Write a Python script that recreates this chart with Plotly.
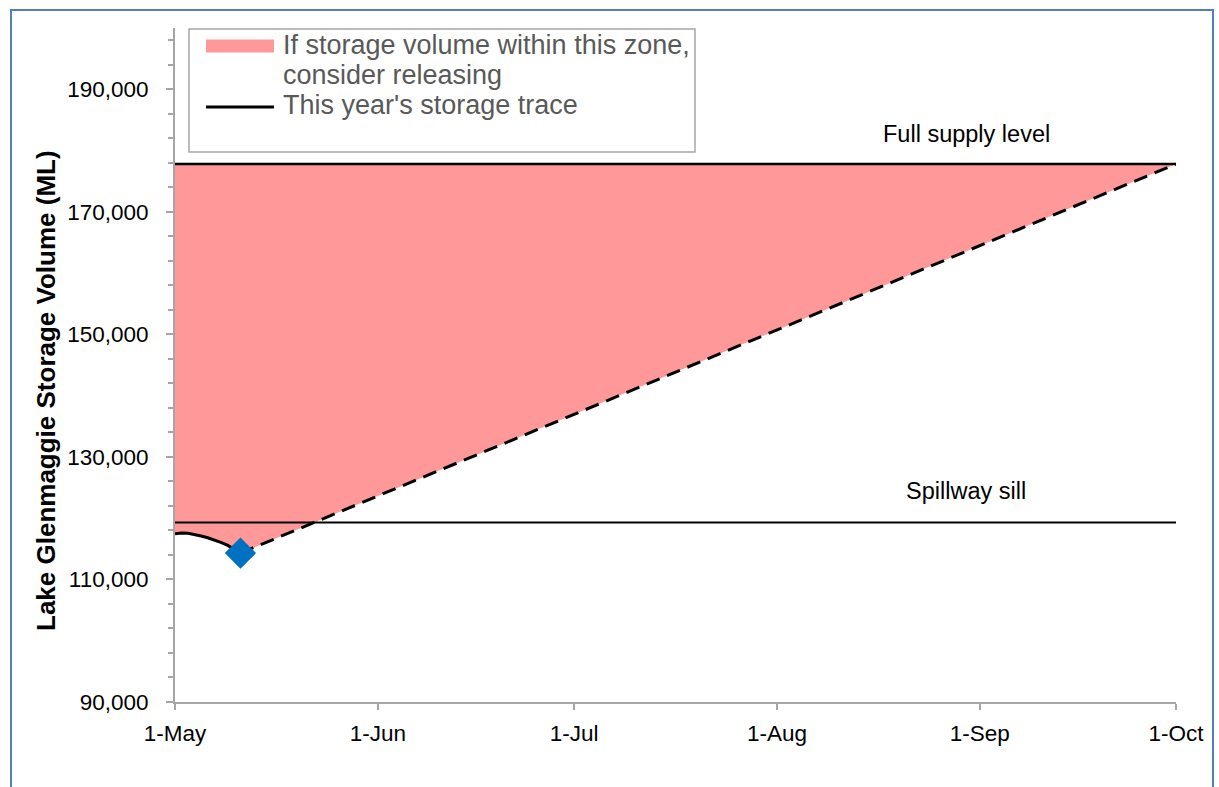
import plotly.graph_objects as go

# ---- data -----------------------------------------------------------------
# Lake Glenmaggie storage recorded so far this season (ML)
trace_dates = [
    "2023-05-01", "2023-05-02", "2023-05-03", "2023-05-04", "2023-05-05",
    "2023-05-06", "2023-05-07", "2023-05-08", "2023-05-09", "2023-05-10",
    "2023-05-11",
]
trace_volume = [117450, 117600, 117550, 117350, 117100,
                116800, 116450, 116050, 115600, 115000,
                114300]

# Straight-line path from the latest reading up to full supply on 1 October
forecast_dates = ["2023-05-11", "2023-10-01"]
forecast_volume = [114300, 177800]

FULL_SUPPLY = 177800
SPILLWAY_SILL = 119300

season_dates = ["2023-05-01", "2023-10-01"]
x_tick_dates = ["2023-05-01", "2023-06-01", "2023-07-01",
                "2023-08-01", "2023-09-01", "2023-10-01"]
x_tick_labels = ["1-May", "1-Jun", "1-Jul", "1-Aug", "1-Sep", "1-Oct"]
y_tick_values = [90000, 110000, 130000, 150000, 170000, 190000]
y_tick_labels = ["90,000", "110,000", "130,000", "150,000", "170,000", "190,000"]

# ---- page geometry (pixels) -----------------------------------------------
FIG_W, FIG_H = 1219, 787
L, R, T, B = 175, 1176, 28, 702


def px(x):
    return (x - L) / (R - L)


def py(y):
    return (B - y) / (B - T)


FONT = "Liberation Sans, Arial, sans-serif"
PINK = "#FF9999"
GREY_AXIS = "#A6A6A6"

# release zone: between the season trace / forecast and full supply
zone_dates = trace_dates + forecast_dates[1:]
zone_lower = trace_volume + forecast_volume[1:]
zone_upper = [FULL_SUPPLY] * len(zone_dates)

fig = go.Figure()

fig.add_trace(go.Scatter(
    x=zone_dates, y=zone_lower, mode="lines",
    line=dict(width=0, color=PINK), showlegend=False, hoverinfo="skip",
))
fig.add_trace(go.Scatter(
    x=zone_dates, y=zone_upper, mode="lines",
    line=dict(width=0, color=PINK), fill="tonexty", fillcolor=PINK,
    name="If storage volume within this zone, consider releasing",
    showlegend=False,
))

fig.add_trace(go.Scatter(
    x=season_dates, y=[SPILLWAY_SILL] * len(season_dates), mode="lines",
    line=dict(color="black", width=2), name="Spillway sill", showlegend=False,
))
fig.add_trace(go.Scatter(
    x=season_dates, y=[FULL_SUPPLY] * len(season_dates), mode="lines",
    line=dict(color="black", width=2.5), name="Full supply level",
    showlegend=False,
))

fig.add_trace(go.Scatter(
    x=forecast_dates, y=forecast_volume, mode="lines",
    line=dict(color="black", width=3, dash="14px,8px"),
    name="Forecast", showlegend=False,
))
fig.add_trace(go.Scatter(
    x=trace_dates, y=trace_volume, mode="lines",
    line=dict(color="black", width=3),
    name="This year's storage trace", showlegend=False,
))
fig.add_trace(go.Scatter(
    x=[trace_dates[-1]], y=[trace_volume[-1]], mode="markers",
    marker=dict(symbol="diamond", size=24, color="#0070C0",
                line=dict(width=0)),
    name="Latest reading", showlegend=False,
))

# ---- hand-drawn legend ------------------------------------------------------
shapes = [
    dict(type="rect", xref="paper", yref="paper",
         x0=px(189), x1=px(695), y0=py(152), y1=py(29),
         line=dict(color=GREY_AXIS, width=1.5), fillcolor="white", layer="above"),
    dict(type="rect", xref="paper", yref="paper",
         x0=px(206), x1=px(274), y0=py(52.5), y1=py(39.5),
         line=dict(width=0), fillcolor=PINK, layer="above"),
    dict(type="line", xref="paper", yref="paper",
         x0=px(206), x1=px(274), y0=py(107), y1=py(107),
         line=dict(color="black", width=3), layer="above"),
    # outer frame
    dict(type="rect", xref="paper", yref="paper",
         x0=px(11), x1=px(1213), y0=py(800), y1=py(10),
         line=dict(color="#4F81BD", width=2), layer="above"),
]

legend_lines = [
    ("If storage volume within this zone,", 45.5),
    ("consider releasing", 75.5),
    ("This year's storage trace", 105.5),
]
annotations = []
for text, yc in legend_lines:
    annotations.append(dict(
        xref="paper", yref="paper", x=px(281), y=py(yc),
        xanchor="left", yanchor="middle", text=text, showarrow=False,
        font=dict(family=FONT, size=27, color="#595959"),
    ))

annotations += [
    dict(xref="paper", yref="paper", x=px(966), y=py(133.5),
         xanchor="center", yanchor="middle", text="Full supply level",
         showarrow=False, font=dict(family=FONT, size=23.5, color="black")),
    dict(xref="paper", yref="paper", x=px(966), y=py(491),
         xanchor="center", yanchor="middle", text="Spillway sill",
         showarrow=False, font=dict(family=FONT, size=23.5, color="black")),
    dict(xref="paper", yref="paper", x=px(46), y=py(391),
         xanchor="center", yanchor="middle", textangle=-90,
         text="<b>Lake Glenmaggie Storage Volume (ML)</b>",
         showarrow=False, font=dict(family=FONT, size=26, color="black")),
]

fig.update_layout(
    width=FIG_W, height=FIG_H,
    margin=dict(l=L, r=FIG_W - R, t=T, b=FIG_H - B, pad=0),
    paper_bgcolor="white", plot_bgcolor="white",
    font=dict(family=FONT, size=22, color="black"),
    showlegend=False,
    shapes=shapes, annotations=annotations,
)

fig.update_xaxes(
    type="date", range=season_dates,
    tickmode="array", tickvals=x_tick_dates, ticktext=x_tick_labels,
    ticks="outside", ticklen=6, tickwidth=1.5, tickcolor=GREY_AXIS,
    showline=True, linecolor=GREY_AXIS, linewidth=2,
    showgrid=False, zeroline=False,
    ticklabelstandoff=4,
    tickfont=dict(family=FONT, size=22.5, color="black"),
)

fig.update_yaxes(
    range=[90000, 200000],
    tickmode="array", tickvals=y_tick_values, ticktext=y_tick_labels,
    ticks="outside", ticklen=7, tickwidth=1.5, tickcolor=GREY_AXIS,
    minor=dict(tick0=90000, dtick=4000, ticks="outside", ticklen=5,
               tickwidth=1.5, tickcolor=GREY_AXIS, showgrid=False),
    showline=True, linecolor=GREY_AXIS, linewidth=2,
    showgrid=False, zeroline=False,
    ticklabelstandoff=13,
    tickfont=dict(family=FONT, size=22.5, color="black"),
)

fig.write_html("out.html")
